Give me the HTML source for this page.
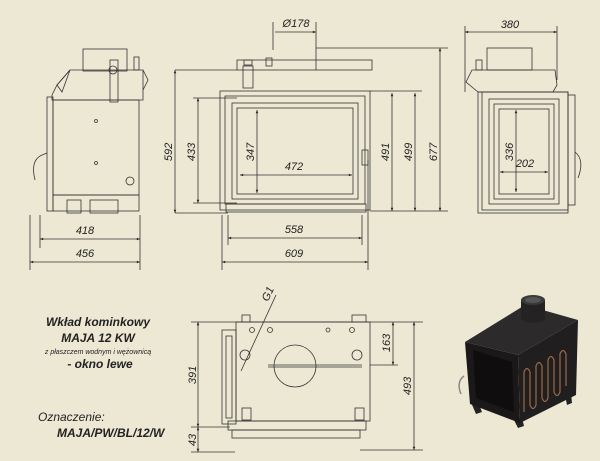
<!DOCTYPE html>
<html><head><meta charset="utf-8"><style>
html,body{margin:0;padding:0;background:#ede8d4;}
svg{display:block}
text{font-family:"Liberation Sans",sans-serif;font-style:italic;fill:#222}
</style></head><body>
<svg width="600" height="461" viewBox="0 0 600 461" xmlns="http://www.w3.org/2000/svg">
<defs>
<marker id="a" viewBox="0 0 10 10" refX="10" refY="5" markerWidth="6" markerHeight="4" orient="auto-start-reverse"><path d="M0,1 L10,5 L0,9z" fill="#222"/></marker>
</defs>
<rect width="600" height="461" fill="#ede8d4"/>
<g stroke="#333" stroke-width="0.8" fill="none">
<!-- LEFT SIDE VIEW -->
<rect x="83" y="49" width="44" height="22"/>
<path d="M70,70 L143,70 L143,100 L52,100 L52,95 L57,85 Z"/>
<path d="M70,70 L57,85 L62,92 Z M143,70 L148,80 L143,90"/>
<rect x="47" y="97" width="6" height="114"/>
<rect x="53" y="100" width="86" height="95"/>
<rect x="53" y="195" width="86" height="16"/>
<rect x="67" y="200" width="14" height="13"/><rect x="90" y="200" width="28" height="13"/>
<rect x="110" y="60" width="8" height="42"/>
<circle cx="113" cy="70" r="4"/>
<circle cx="130" cy="181" r="4"/>
<circle cx="96" cy="121" r="1.5"/><circle cx="96" cy="163" r="1.5"/>
<path d="M42,155 Q30,160 35,180 M42,155 L47,153"/>
<rect x="134" y="57" width="5" height="13"/>
<path d="M40,215 V248 M30,215 V270 M140,215 V270"/>
<path d="M40,239 H140" marker-start="url(#a)" marker-end="url(#a)"/>
<path d="M30,262 H140" marker-start="url(#a)" marker-end="url(#a)"/>

<!-- FRONT VIEW -->
<rect x="237" y="60" width="135" height="10"/>
<rect x="243" y="66" width="10" height="22"/>
<rect x="244" y="60" width="8" height="5"/>
<rect x="266" y="58" width="6" height="8"/>
<rect x="220" y="91" width="150" height="119"/>
<rect x="225" y="96" width="140" height="108"/>
<rect x="232" y="103" width="126" height="96"/>
<rect x="237" y="108" width="116" height="86"/>
<rect x="226" y="204" width="140" height="8"/>
<rect x="362" y="150" width="6" height="15"/>
<path d="M175,70 H237 M193,98 H237 M193,203 H237 M175,213 H228"/>
<path d="M175,70 V213" marker-start="url(#a)" marker-end="url(#a)"/>
<path d="M198,98 V203" marker-start="url(#a)" marker-end="url(#a)"/>
<path d="M257,110 V193" marker-start="url(#a)" marker-end="url(#a)"/>
<path d="M240,175 H352" marker-start="url(#a)" marker-end="url(#a)"/>
<path d="M228,215 V245 M362,215 V245 M222,215 V270 M368,160 V270"/>
<path d="M228,238 H362" marker-start="url(#a)" marker-end="url(#a)"/>
<path d="M222,262 H368" marker-start="url(#a)" marker-end="url(#a)"/>
<path d="M273,22 V50 M316,22 V70 M316,48 H448 M370,91 H422 M370,211 H448"/>
<path d="M275,32 H316" marker-end="url(#a)"/>
<path d="M392,93 V211" marker-start="url(#a)" marker-end="url(#a)"/>
<path d="M415,93 V211" marker-start="url(#a)" marker-end="url(#a)"/>
<path d="M440,48 V211" marker-start="url(#a)" marker-end="url(#a)"/>

<!-- RIGHT VIEW -->
<rect x="487" y="48" width="45" height="22"/>
<path d="M472,70 H555 L557,85 L553,92 H478 L466,82 Z"/>
<rect x="476" y="60" width="6" height="10"/>
<rect x="478" y="92" width="90" height="121"/>
<rect x="482" y="92" width="86" height="118"/>
<rect x="489" y="99" width="70" height="105"/>
<rect x="494" y="104" width="60" height="95"/>
<rect x="499" y="109" width="50" height="85"/>
<rect x="568" y="95" width="7" height="110"/>
<path d="M575,152 Q585,160 578,178"/>
<path d="M465,26 V92 M557,26 V80"/>
<path d="M465,32 H557" marker-start="url(#a)" marker-end="url(#a)"/>
<path d="M516,110 V192" marker-start="url(#a)" marker-end="url(#a)"/>
<path d="M500,172 H548" marker-start="url(#a)" marker-end="url(#a)"/>

<!-- TOP VIEW (bottom) -->
<rect x="236" y="322" width="134" height="99"/>
<rect x="242" y="315" width="8" height="7"/><rect x="352" y="315" width="14" height="7"/>
<rect x="222" y="330" width="14" height="94"/>
<rect x="226" y="336" width="6" height="82"/>
<rect x="228" y="421" width="138" height="9"/>
<rect x="232" y="430" width="128" height="8"/>
<circle cx="295" cy="366" r="21"/>
<path d="M268,365 H362 M268,367 H362"/>
<circle cx="245" cy="355" r="5"/>
<circle cx="357" cy="355" r="5"/>
<circle cx="252" cy="330" r="2.5"/><circle cx="270" cy="330" r="2.5"/><circle cx="328" cy="330" r="2"/><circle cx="352" cy="330" r="2.5"/>
<rect x="242" y="408" width="9" height="12"/><rect x="355" y="408" width="9" height="12"/>
<path d="M276,295 L241,371"/>
<path d="M191,322 H423 M191,427 H230 M191,452 H235 M370,365 H398 M360,450 H423"/>
<path d="M198,322 V427" marker-start="url(#a)" marker-end="url(#a)"/>
<path d="M198,427 V452" marker-start="url(#a)" marker-end="url(#a)"/>
<path d="M393,322 V365" marker-start="url(#a)" marker-end="url(#a)"/>
<path d="M414,322 V450" marker-start="url(#a)" marker-end="url(#a)"/>
</g>

<!-- 3D render -->
<g>
<polygon points="470,400 476,414 482,412 478,402" fill="#222"/>
<polygon points="514,420 518,428 524,426 522,418" fill="#222"/>
<polygon points="565,395 567,405 572,403 571,393" fill="#222"/>
<polygon points="465,342 518,355 520,423 470,404" fill="#1a1818"/>
<polygon points="473,350 512,362 514,412 476,398" fill="#0f0d0d"/>
<polygon points="518,355 578,320 576,395 520,423" fill="#201e1e"/>
<polygon points="465,342 525,305 578,320 518,355" fill="#2c2a2a"/>
<rect x="521" y="300" width="24" height="18" fill="#242222"/>
<ellipse cx="533" cy="318" rx="12" ry="5" fill="#242222"/>
<ellipse cx="533" cy="300" rx="12" ry="5" fill="#3a3838"/>
<ellipse cx="533" cy="300" rx="8" ry="3" fill="#555"/>
<path d="M524,412 V372 Q527,365 530,372 V405 Q533,412 536,405 V366 Q539,359 542,366 V398 Q545,405 548,398 V360 Q551,353 554,360 V392 Q557,399 560,392 V354 Q563,347 566,354 V386" stroke="#9a6a48" stroke-width="1.2" fill="none"/>
<path d="M464,376 Q456,382 461,394" stroke="#888" stroke-width="1.5" fill="none"/>
</g>

<!-- TEXT -->
<g font-size="10">
<text x="85" y="234" text-anchor="middle" font-size="11">418</text>
<text x="85" y="257" text-anchor="middle" font-size="11">456</text>
<text x="294" y="233" text-anchor="middle" font-size="11">558</text>
<text x="294" y="257" text-anchor="middle" font-size="11">609</text>
<text x="294" y="170" text-anchor="middle" font-size="11">472</text>
<text x="296" y="27" text-anchor="middle" font-size="11">Ø178</text>
<text x="510" y="28" text-anchor="middle" font-size="11">380</text>
<text x="525" y="167" text-anchor="middle" font-size="11">202</text>
<text transform="translate(172,152) rotate(-90)" font-size="11" text-anchor="middle">592</text>
<text transform="translate(195,152) rotate(-90)" font-size="11" text-anchor="middle">433</text>
<text transform="translate(254,152) rotate(-90)" font-size="11" text-anchor="middle">347</text>
<text transform="translate(389,152) rotate(-90)" font-size="11" text-anchor="middle">491</text>
<text transform="translate(412,152) rotate(-90)" font-size="11" text-anchor="middle">499</text>
<text transform="translate(437,152) rotate(-90)" font-size="11" text-anchor="middle">677</text>
<text transform="translate(513,152) rotate(-90)" font-size="11" text-anchor="middle">336</text>
<text transform="translate(196,375) rotate(-90)" font-size="11" text-anchor="middle">391</text>
<text transform="translate(196,440) rotate(-90)" font-size="11" text-anchor="middle">43</text>
<text transform="translate(390,343) rotate(-90)" font-size="11" text-anchor="middle">163</text>
<text transform="translate(411,386) rotate(-90)" font-size="11" text-anchor="middle">493</text>
<text transform="translate(268,302) rotate(-65)" font-size="11">G1</text>
<text x="98" y="326" text-anchor="middle" font-weight="bold" font-size="12">Wkład kominkowy</text>
<text x="98" y="342" text-anchor="middle" font-weight="bold" font-size="12">MAJA 12 KW</text>
<text x="98" y="354" text-anchor="middle" font-size="7">z płaszczem wodnym i wężownicą</text>
<text x="100" y="368" text-anchor="middle" font-weight="bold" font-size="12">- okno lewe</text>
<text x="38" y="421" font-size="12">Oznaczenie:</text>
<text x="57" y="437" font-weight="bold" font-size="12">MAJA/PW/BL/12/W</text>
</g>
</svg>
</body></html>
